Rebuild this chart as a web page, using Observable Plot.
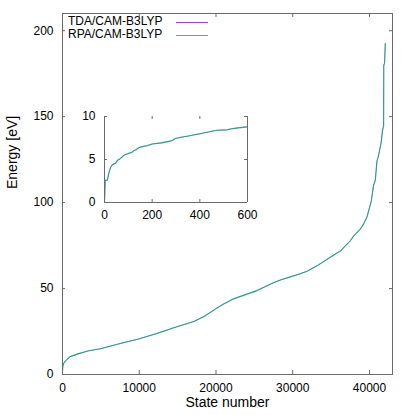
<!DOCTYPE html>
<html>
<head>
<meta charset="utf-8">
<script src="https://cdn.jsdelivr.net/npm/d3@7"></script>
<script src="https://cdn.jsdelivr.net/npm/@observablehq/plot@0.6"></script>
<style>
  html, body { margin: 0; padding: 0; background: #fff; }
  #wrap { position: relative; width: 415px; height: 415px; font-family: "Liberation Sans", Arial, sans-serif; }
  #wrap svg { position: absolute; }
  .legend { position: absolute; left: 68px; top: 15px; font-size: 12px; color: #000; }
  .legend .row { position: relative; height: 12.8px; line-height: 12.8px; white-space: nowrap; }
  .legend .sample { position: absolute; left: 108px; top: 7px; width: 32px; height: 0; border-top: 1px solid; opacity: 0.75; }
</style>
</head>
<body>
<div id="wrap"></div>
<script>
// ---- data ----
const states = [0, 3, 12, 19, 26, 33, 47, 54, 61, 75, 82, 96, 117, 124, 131, 145, 159, 180, 200, 235,
  263, 284, 298, 319, 347, 375, 402, 444, 472, 514, 528, 556, 600, 1000, 2000, 3430, 4950, 7770, 9940,
  12070, 13630, 14280, 17100, 18400, 20130, 21000, 21440, 22300, 25350, 26650, 27520, 28390, 29690,
  30990, 31860, 33170, 34680, 36200, 37500, 37930, 38800, 39230, 39670, 40100, 40240, 40530, 40760,
  40970, 41190, 41540, 41700, 41840, 41860, 41960, 42060];
const tdaEnergy = [0, 2.6, 2.6, 3.5, 4.15, 4.4, 4.6, 4.9, 5.0, 5.35, 5.5, 5.7, 5.9, 6.05, 6.15, 6.4, 6.5, 6.65, 6.8, 6.95,
  7.1, 7.2, 7.45, 7.6, 7.7, 7.9, 8.0, 8.25, 8.4, 8.45, 8.55, 8.7, 8.8, 10.4, 12.0, 13.8, 15.0, 18.3, 20.7,
  23.6, 25.9, 26.9, 30.8, 33.7, 38.8, 41.1, 42.0, 44.1, 48.9, 51.6, 53.5, 55.0, 56.8,
  58.7, 60.0, 63.3, 67.6, 71.9, 77.9, 80.5, 84.6, 87.6, 91.6, 98.6, 101, 110, 113,
  124, 127.5, 135.5, 142, 144.5, 179.5, 181, 192.6];
const rpaEnergy = [0, 2.55, 2.6, 3.5, 4.1, 4.4, 4.55, 4.9, 5.0, 5.3, 5.5, 5.65, 5.85, 6.05, 6.1, 6.4, 6.5, 6.6, 6.8, 6.9,
  7.05, 7.2, 7.45, 7.55, 7.7, 7.85, 8.0, 8.25, 8.4, 8.45, 8.55, 8.65, 8.8, 10.4, 12.0, 13.8, 15.0, 18.3, 20.7,
  23.6, 25.8, 26.9, 30.8, 33.6, 38.6, 41.0, 42.0, 44.0, 48.8, 51.6, 53.4, 55.0, 56.8,
  58.6, 60.0, 63.2, 67.6, 71.8, 77.8, 80.5, 84.5, 87.5, 91.5, 98.5, 101, 110, 113,
  124, 127.5, 135.5, 142, 144.5, 180, 181, 192.6];
const seriesNames = ["TDA/CAM-B3LYP", "RPA/CAM-B3LYP"];
const seriesColors = ["#9400d3", "#009e73"];
const mainXTicks = [0, 10000, 20000, 30000, 40000];
const mainYTicks = [0, 50, 100, 150, 200];
const insetXTicks = [0, 200, 400, 600];
const insetYTicks = [0, 5, 10];
const xLabel = "State number";
const yLabel = "Energy [eV]";

// ---- build ----
const tdaRows = states.map((s, i) => ({state: s, energy: tdaEnergy[i]}));
const rpaRows = states.map((s, i) => ({state: s, energy: rpaEnergy[i]}));

const font = "'Liberation Sans', Arial, sans-serif";
const border = "#6a6a6a";
const baseStyle = {background: "transparent", overflow: "visible", fontFamily: font, fontSize: "12px", color: "#000"};

const W = 415, H = 415, mt = 13, mb = 41, ml = 62, mr = 23;
const innerH = H - mt - mb, innerW = W - ml - mr;

const main = Plot.plot({
  width: W, height: H, marginTop: mt, marginBottom: mb, marginLeft: ml, marginRight: mr,
  style: baseStyle,
  x: {domain: [0, 43000]},
  y: {domain: [0, 210]},
  marks: [
    Plot.line(tdaRows, {x: "state", y: "energy", stroke: seriesColors[0], strokeWidth: 0.7, strokeOpacity: 0.6}),
    Plot.line(rpaRows, {x: "state", y: "energy", stroke: seriesColors[1], strokeWidth: 1.1, strokeOpacity: 0.8}),
    Plot.frame({stroke: border}),
    Plot.tickX(mainXTicks, {x: d => d, insetTop: innerH - 4, stroke: border}),
    Plot.tickX(mainXTicks, {x: d => d, insetBottom: innerH - 4, stroke: border}),
    Plot.tickY(mainYTicks, {y: d => d, insetRight: innerW - 3, stroke: border}),
    Plot.tickY(mainYTicks, {y: d => d, insetLeft: innerW - 3, stroke: border}),
    Plot.axisX(mainXTicks, {tickSize: 0, tickPadding: 9, label: null, tickFormat: d => String(d), fontSize: 12}),
    Plot.axisY(mainYTicks, {tickSize: 0, tickPadding: 9, label: null, tickFormat: d => String(d), fontSize: 12}),
    Plot.text([xLabel], {text: d => d, frameAnchor: "bottom", dy: 32, fontSize: 14}),
    Plot.text([yLabel], {text: d => d, frameAnchor: "left", rotate: -90, dx: -50, dy: -5, fontSize: 14})
  ]
});
main.style.left = "0px"; main.style.top = "0px";

const iw = 181, ih = 118, iml = 30, imr = 8, imt = 12, imb = 20;
const iInnerH = ih - imt - imb, iInnerW = iw - iml - imr;
const inset = Plot.plot({
  width: iw, height: ih, marginTop: imt, marginBottom: imb, marginLeft: iml, marginRight: imr,
  style: baseStyle,
  x: {domain: [0, 600]},
  y: {domain: [0, 10]},
  marks: [
    Plot.line(tdaRows, {x: "state", y: "energy", stroke: seriesColors[0], strokeWidth: 0.7, strokeOpacity: 0.6, clip: true}),
    Plot.line(rpaRows, {x: "state", y: "energy", stroke: seriesColors[1], strokeWidth: 1.1, strokeOpacity: 0.8, clip: true}),
    Plot.ruleX([0, 600], {stroke: border}),
    Plot.ruleY([0], {stroke: border}),
    Plot.tickX(insetXTicks, {x: d => d, insetTop: iInnerH - 3, stroke: border}),
    Plot.tickX(insetXTicks, {x: d => d, insetBottom: iInnerH - 3, stroke: border}),
    Plot.tickY(insetYTicks, {y: d => d, insetRight: iInnerW - 3, stroke: border}),
    Plot.tickY(insetYTicks, {y: d => d, insetLeft: iInnerW - 3, stroke: border}),
    Plot.axisX(insetXTicks, {tickSize: 0, tickPadding: 8, label: null, tickFormat: d => String(d), fontSize: 12}),
    Plot.axisY(insetYTicks, {tickSize: 0, tickPadding: 9, label: null, tickFormat: d => String(d), fontSize: 12})
  ]
});
inset.style.left = "74px"; inset.style.top = "104px";

const wrap = document.getElementById("wrap");
wrap.append(main, inset);

const legend = document.createElement("div");
legend.className = "legend";
seriesNames.forEach((name, i) => {
  const row = document.createElement("div");
  row.className = "row";
  row.textContent = name;
  const s = document.createElement("span");
  s.className = "sample";
  s.style.borderTopColor = seriesColors[i];
  row.append(s);
  legend.append(row);
});
wrap.append(legend);
</script>
</body>
</html>
